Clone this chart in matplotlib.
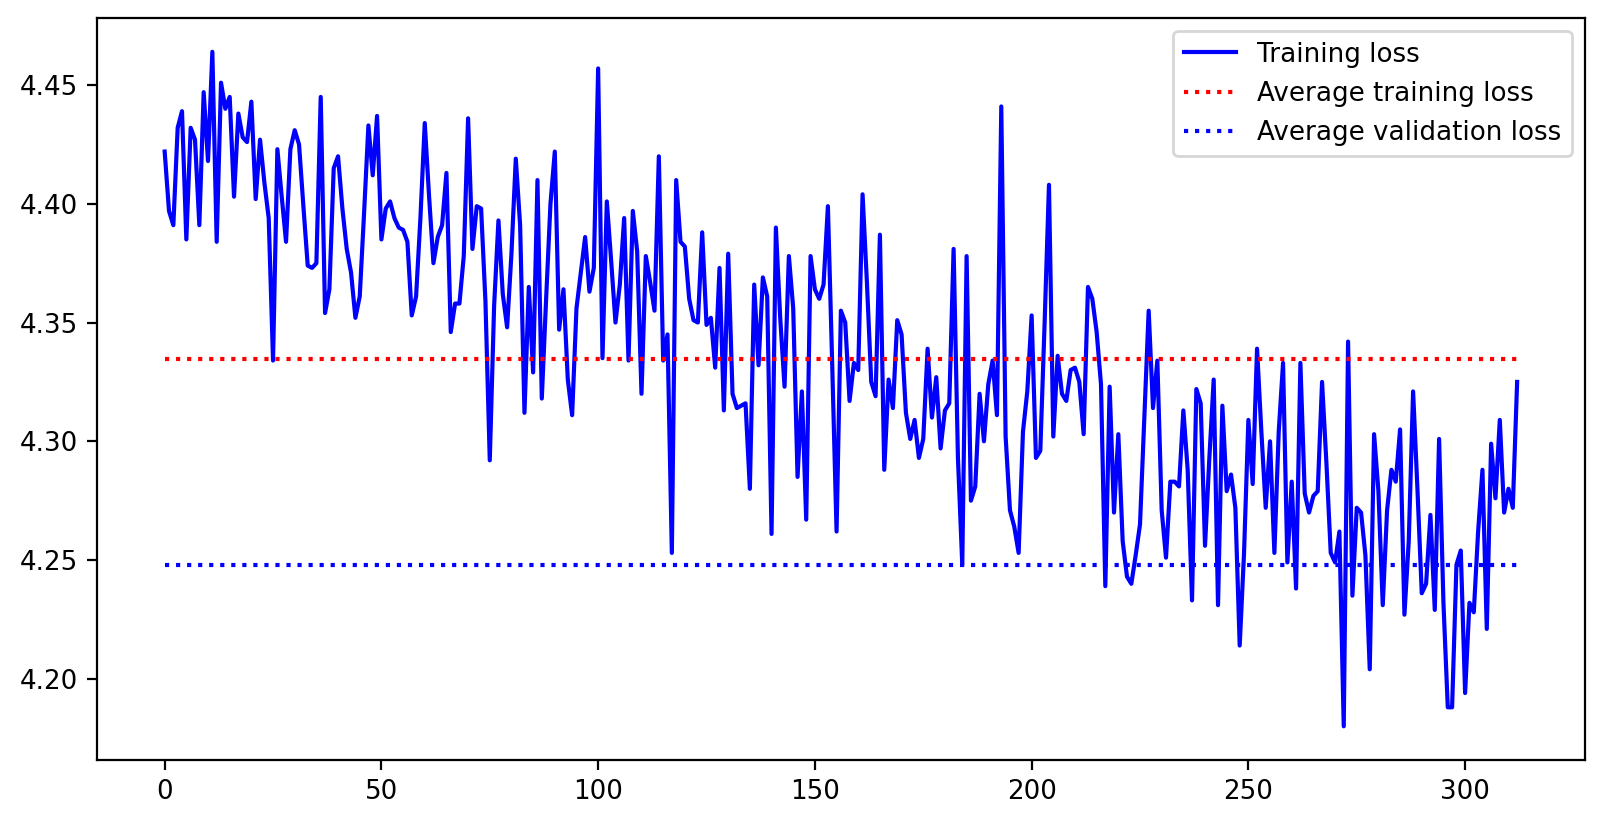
#!/usr/bin/env python

import numpy as np
import matplotlib
matplotlib.use('Agg')
import matplotlib.pyplot as plt

# training loss per step (steps 0..312)
loss_a = [4.422, 4.397, 4.391, 4.432, 4.439, 4.385, 4.432, 4.427, 4.391, 4.447,
	4.418, 4.464, 4.384, 4.451, 4.440, 4.445, 4.403, 4.438, 4.428, 4.426,
	4.443, 4.402, 4.427, 4.409, 4.394, 4.334, 4.423, 4.403, 4.384, 4.423,
	4.431, 4.425, 4.399, 4.374, 4.373, 4.375, 4.445, 4.354, 4.364, 4.415,
	4.420, 4.398, 4.381, 4.371, 4.352, 4.361, 4.396, 4.433, 4.412, 4.437,
	4.385, 4.398, 4.401, 4.394, 4.390, 4.389, 4.384, 4.353, 4.361, 4.394,
	4.434, 4.403, 4.375, 4.386, 4.391, 4.413, 4.346, 4.358, 4.358, 4.378,
	4.436, 4.381, 4.399, 4.398, 4.359, 4.292, 4.357, 4.393, 4.362, 4.348,
	4.379, 4.419, 4.391, 4.312, 4.365, 4.329, 4.410, 4.318, 4.360, 4.400,
	4.422, 4.347, 4.364, 4.326, 4.311, 4.356, 4.371, 4.386, 4.363, 4.373]

loss_b = [4.457, 4.335, 4.401, 4.376, 4.350, 4.366, 4.394, 4.334, 4.397, 4.380,
	4.320, 4.378, 4.367, 4.355, 4.420, 4.334, 4.345, 4.253, 4.410, 4.384,
	4.382, 4.360, 4.351, 4.350, 4.388, 4.349, 4.352, 4.331, 4.373, 4.313,
	4.379, 4.320, 4.314, 4.315, 4.316, 4.280, 4.366, 4.332, 4.369, 4.361,
	4.261, 4.390, 4.352, 4.323, 4.378, 4.356, 4.285, 4.321, 4.267, 4.378,
	4.364, 4.360, 4.366, 4.399, 4.332, 4.262, 4.355, 4.350, 4.317, 4.333,
	4.330, 4.404, 4.367, 4.325, 4.319, 4.387, 4.288, 4.326, 4.314, 4.351,
	4.345, 4.312, 4.301, 4.309, 4.293, 4.301, 4.339, 4.310, 4.327, 4.297,
	4.313, 4.316, 4.381, 4.293, 4.248, 4.378, 4.275, 4.281, 4.320, 4.300,
	4.324, 4.334, 4.311, 4.441, 4.302, 4.271, 4.264, 4.253, 4.304, 4.321]

loss_c = [4.353, 4.293, 4.296, 4.350, 4.408, 4.302, 4.336, 4.320, 4.317, 4.330,
	4.331, 4.325, 4.303, 4.365, 4.360, 4.346, 4.324, 4.239, 4.323, 4.270,
	4.303, 4.258, 4.243, 4.240, 4.252, 4.265, 4.310, 4.355, 4.314, 4.334,
	4.271, 4.251, 4.283, 4.283, 4.281, 4.313, 4.288, 4.233, 4.322, 4.316,
	4.256, 4.293, 4.326, 4.231, 4.315, 4.279, 4.286, 4.272, 4.214, 4.253,
	4.309, 4.282, 4.339, 4.304, 4.272, 4.300, 4.253, 4.304, 4.333, 4.249,
	4.283, 4.238, 4.333, 4.278, 4.270, 4.277, 4.279, 4.325, 4.291, 4.253,
	4.249, 4.262, 4.180, 4.342, 4.235, 4.272, 4.270, 4.252, 4.204, 4.303,
	4.279, 4.231, 4.271, 4.288, 4.283, 4.305, 4.227, 4.258, 4.321, 4.280,
	4.236, 4.240, 4.269, 4.229, 4.301, 4.232, 4.188, 4.188, 4.248, 4.254,
	4.194, 4.232, 4.228, 4.262, 4.288, 4.221, 4.299, 4.276, 4.309, 4.270,
	4.280, 4.272, 4.325]

avg_train_loss = 4.3347
avg_val_loss = 4.2478


def main():
	plt.rcParams['font.size'] = 9.4

	train_loss = np.array(loss_a + loss_b + loss_c)
	steps = np.arange(len(train_loss))

	fig = plt.figure(figsize=(8.02, 4.11), dpi=200)
	ax = fig.add_axes([0.0605, 0.0754, 0.9275, 0.9026])

	ax.plot(steps, train_loss, color='blue', label='Training loss')
	ax.hlines(avg_train_loss, steps[0], steps[-1], colors='red',
		linestyles=':', label='Average training loss')
	ax.hlines(avg_val_loss, steps[0], steps[-1], colors='blue',
		linestyles=':', label='Average validation loss')

	ax.legend(loc='upper right')
	fig.savefig('out.png', dpi=200)


if __name__ == '__main__':
	main()
